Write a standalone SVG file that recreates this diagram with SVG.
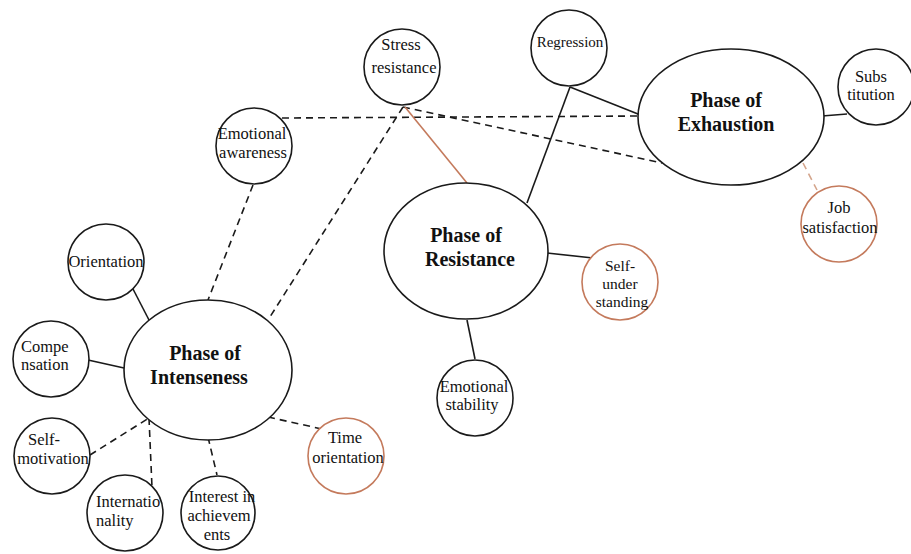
<svg xmlns="http://www.w3.org/2000/svg" width="911" height="554" viewBox="0 0 911 554">
<style>
.n{fill:#fff;stroke:#1a1a1a;stroke-width:1.6}
.o{fill:#fff;stroke:#c47a5c;stroke-width:1.6}
.s{stroke:#1a1a1a;stroke-width:1.6;fill:none}
.d{stroke:#1a1a1a;stroke-width:1.6;fill:none;stroke-dasharray:7 5}
.t{font-family:"Liberation Serif","Times New Roman",serif;font-size:16.5px;fill:#111;text-anchor:middle}
.l{font-family:"Liberation Serif","Times New Roman",serif;font-size:16.5px;fill:#111;text-anchor:start}
.b{font-family:"Liberation Serif","Times New Roman",serif;font-size:20px;font-weight:bold;fill:#111;text-anchor:middle}
</style>
<rect width="911" height="554" fill="#fff"/>
<g id="connectors">
<line class="s" x1="133" y1="289" x2="149" y2="320"/>
<line class="s" x1="88" y1="360" x2="124" y2="368"/>
<line class="d" x1="90" y1="455" x2="149" y2="418"/>
<line class="d" x1="149" y1="418" x2="152" y2="487"/>
<line class="d" x1="208" y1="437" x2="217" y2="475"/>
<line class="d" x1="268" y1="417" x2="322" y2="429"/>
<line class="d" x1="253" y1="185" x2="208" y2="300"/>
<line class="d" x1="403" y1="107" x2="268" y2="320"/>
<line class="d" x1="282" y1="118" x2="643" y2="116"/>
<line class="d" x1="403" y1="107" x2="662" y2="163"/>
<line x1="405" y1="107" x2="467" y2="183" stroke="#c47a5c" stroke-width="1.6"/>
<line class="s" x1="570" y1="87" x2="527" y2="203"/>
<line class="s" x1="570" y1="87" x2="643" y2="116"/>
<line class="s" x1="822" y1="116" x2="847" y2="114"/>
<line x1="803" y1="163" x2="817" y2="190" stroke="#d4a58c" stroke-width="1.6" stroke-dasharray="7 5"/>
<line class="s" x1="547" y1="253" x2="593" y2="258"/>
<line class="s" x1="467" y1="320" x2="475" y2="359"/>
</g>
<g id="intenseness"><ellipse class="n" cx="208" cy="370" rx="84" ry="70"/><text class="b" x="205" y="360">Phase of</text><text class="b" x="199" y="384">Intenseness</text></g>
<g id="resistance"><ellipse class="n" cx="466" cy="251" rx="82" ry="68"/><text class="b" x="466" y="242">Phase of</text><text class="b" x="470" y="266">Resistance</text></g>
<g id="exhaustion"><ellipse class="n" cx="731" cy="117" rx="93" ry="68"/><text class="b" x="726" y="107">Phase of</text><text class="b" x="726" y="131">Exhaustion</text></g>
<g id="orientation"><circle class="n" cx="106" cy="262" r="38"/><text class="t" x="106" y="267">Orientation</text></g>
<g id="compensation"><circle class="n" cx="51" cy="359" r="38"/><text class="l" x="21" y="352">Compe</text><text class="l" x="21" y="370">nsation</text></g>
<g id="self-motivation"><circle class="n" cx="52" cy="456" r="38"/><text class="t" x="44" y="445">Self-</text><text class="t" x="53" y="464">motivation</text></g>
<g id="internationality"><circle class="n" cx="125" cy="513" r="38"/><text class="l" x="96" y="507">Internatio</text><text class="l" x="96" y="526">nality</text></g>
<g id="interest"><circle class="n" cx="218" cy="513" r="37"/><text class="t" x="222" y="502">Interest in</text><text class="t" x="219" y="521">achievem</text><text class="t" x="217" y="540">ents</text></g>
<g id="time-orientation"><circle class="o" cx="346" cy="456" r="38"/><text class="t" x="345" y="443">Time</text><text class="t" x="348" y="463">orientation</text></g>
<g id="emotional-awareness"><circle class="n" cx="254" cy="146" r="38"/><text class="t" x="252" y="139">Emotional</text><text class="t" x="253" y="158">awareness</text></g>
<g id="stress-resistance"><circle class="n" cx="402" cy="67" r="38"/><text class="t" x="401" y="50">Stress</text><text class="t" x="404" y="73">resistance</text></g>
<g id="regression"><circle class="n" cx="569" cy="48" r="38"/><text class="t" x="570" y="47" style="font-size:15px">Regression</text></g>
<g id="substitution"><circle class="n" cx="876" cy="87" r="38"/><text class="t" x="871" y="82">Subs</text><text class="t" x="871" y="100">titution</text></g>
<g id="job-satisfaction"><circle class="o" cx="839" cy="224" r="38"/><text class="t" x="839" y="213">Job</text><text class="t" x="840" y="233">satisfaction</text></g>
<g id="self-understanding" style="font-size:15.5px"><circle class="o" cx="620" cy="282" r="38"/><text class="t" x="620" y="271" style="font-size:15.5px">Self-</text><text class="t" x="620" y="289" style="font-size:15.5px">under</text><text class="t" x="622" y="307" style="font-size:15.5px">standing</text></g>
<g id="emotional-stability"><circle class="n" cx="475" cy="398" r="38"/><text class="t" x="474" y="392">Emotional</text><text class="t" x="472" y="410">stability</text></g>
</svg>
